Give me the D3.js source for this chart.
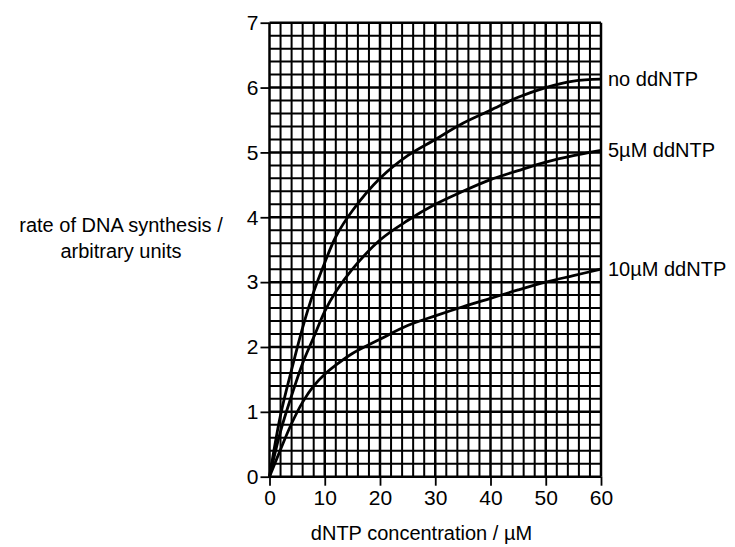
<!DOCTYPE html>
<html>
<head>
<meta charset="utf-8">
<script src="https://cdn.jsdelivr.net/npm/d3@7"></script>
<style>
    body { margin: 0; background: #fff; }
    text { font-family: "Liberation Sans", Arial, sans-serif; fill: #000; }
    .tick line, .domain { stroke: #000; }
</style>
</head>
<body>
<svg id="chart"></svg>
<script>
// values
const dntpConc = [0, 2, 4, 6, 8, 10, 12, 15, 20, 25, 30, 35, 40, 45, 50, 55, 60]
const rateNoDd = [0, 0.95, 1.65, 2.3, 2.85, 3.3, 3.7, 4.1, 4.6, 4.95, 5.2, 5.45, 5.65, 5.85, 6.0, 6.1, 6.13]
const rate5Dd = [0, 0.7, 1.25, 1.75, 2.15, 2.55, 2.85, 3.2, 3.65, 3.95, 4.2, 4.4, 4.58, 4.72, 4.85, 4.95, 5.03]
const rate10Dd = [0, 0.42, 0.82, 1.15, 1.4, 1.58, 1.72, 1.9, 2.12, 2.33, 2.48, 2.62, 2.75, 2.88, 3.0, 3.1, 3.2]
const seriesNames = ['no ddNTP', '5\u00b5M ddNTP', '10\u00b5M ddNTP']

const xTicks = [0, 10, 20, 30, 40, 50, 60]
const yTicks = [0, 1, 2, 3, 4, 5, 6, 7]
const xGridStep = 2
const yGridStep = 0.2

class RateChart {
    constructor(_config) {
        this.config = {
            parentElement: _config.parentElement,
            containerWidth: 735,
            containerHeight: 547,
            margin: {top: 22.7, right: 134, bottom: 70.3, left: 269.5},
        }
        this.initVis()
    }

    initVis() {
        let vis = this

        vis.width = vis.config.containerWidth - vis.config.margin.left - vis.config.margin.right
        vis.height = vis.config.containerHeight - vis.config.margin.top - vis.config.margin.bottom

        vis.svg = d3.select(vis.config.parentElement)
            .attr('width', vis.config.containerWidth)
            .attr('height', vis.config.containerHeight)

        vis.chart = vis.svg.append('g')
            .attr('transform', `translate(${vis.config.margin.left}, ${vis.config.margin.top})`)

        vis.xScale = d3.scaleLinear().domain([0, 60]).range([0, vis.width])
        vis.yScale = d3.scaleLinear().domain([0, 7]).range([vis.height, 0])

        vis.renderGrid()
        vis.renderAxes()
        vis.renderLines()
        vis.renderLabels()
    }

    // graph paper
    renderGrid() {
        let vis = this
        const xs = d3.range(0, 60 + 0.001, xGridStep)
        const ys = d3.range(0, 7 + 0.001, yGridStep)

        vis.chart.append('g').selectAll('line')
            .data(xs)
            .join('line')
            .attr('x1', d => vis.xScale(d))
            .attr('x2', d => vis.xScale(d))
            .attr('y1', 0)
            .attr('y2', vis.height)
            .attr('stroke', '#000')
            .attr('stroke-width', d => (Math.round(d) % 10 === 0 ? 2.5 : 2))

        vis.chart.append('g').selectAll('line')
            .data(ys)
            .join('line')
            .attr('x1', 0)
            .attr('x2', vis.width)
            .attr('y1', d => vis.yScale(d))
            .attr('y2', d => vis.yScale(d))
            .attr('stroke', '#000')
            .attr('stroke-width', d => (Math.abs(d - Math.round(d)) < 0.01 ? 2.5 : 2))
    }

    renderAxes() {
        let vis = this

        vis.xAxisG = vis.chart.append('g')
            .attr('transform', `translate(0, ${vis.height})`)
            .call(d3.axisBottom(vis.xScale).tickValues(xTicks).tickFormat(d3.format('d')).tickSize(9).tickPadding(4))
        vis.yAxisG = vis.chart.append('g')
            .call(d3.axisLeft(vis.yScale).tickValues(yTicks).tickFormat(d3.format('d')).tickSize(9).tickPadding(2))

        vis.chart.selectAll('.domain').remove()
        vis.chart.selectAll('.tick line').attr('stroke-width', 1.8)
        vis.chart.selectAll('.tick text')
            .style('font-size', '21px')
            .style('font-family', '"Liberation Sans", Arial, sans-serif')
            .attr('fill', '#000')

        vis.chart.append('text')
            .text('dNTP concentration / \u00b5M')
            .attr('x', vis.xScale(27.5))
            .attr('y', vis.height + 63)
            .style('font-size', '20px')
            .style('text-anchor', 'middle')

        const yTitle = vis.svg.append('text')
            .style('font-size', '20px')
            .style('text-anchor', 'middle')
        yTitle.append('tspan').attr('x', 121).attr('y', 232).text('rate of DNA synthesis /')
        yTitle.append('tspan').attr('x', 121).attr('y', 258).text('arbitrary units')
    }

    renderLines() {
        let vis = this
        vis.series = [rateNoDd, rate5Dd, rate10Dd].map((vals, i) => ({
            name: seriesNames[i],
            points: dntpConc.map((c, j) => ({x: c, y: vals[j]}))
        }))

        const line = d3.line()
            .x(d => vis.xScale(d.x))
            .y(d => vis.yScale(d.y))
            .curve(d3.curveCatmullRom.alpha(0.5))

        vis.chart.selectAll('.curve')
            .data(vis.series)
            .join('path')
            .attr('class', 'curve')
            .attr('d', d => line(d.points))
            .attr('fill', 'none')
            .attr('stroke', '#000')
            .attr('stroke-width', 2.8)
    }

    renderLabels() {
        let vis = this
        vis.chart.selectAll('.series-label')
            .data(vis.series)
            .join('text')
            .attr('class', 'series-label')
            .attr('x', vis.width + 7)
            .attr('y', d => vis.yScale(d.points[d.points.length - 1].y))
            .attr('dy', '0.35em')
            .style('font-size', '20px')
            .text(d => d.name)
    }
}

new RateChart({parentElement: '#chart'})
</script>
</body>
</html>
